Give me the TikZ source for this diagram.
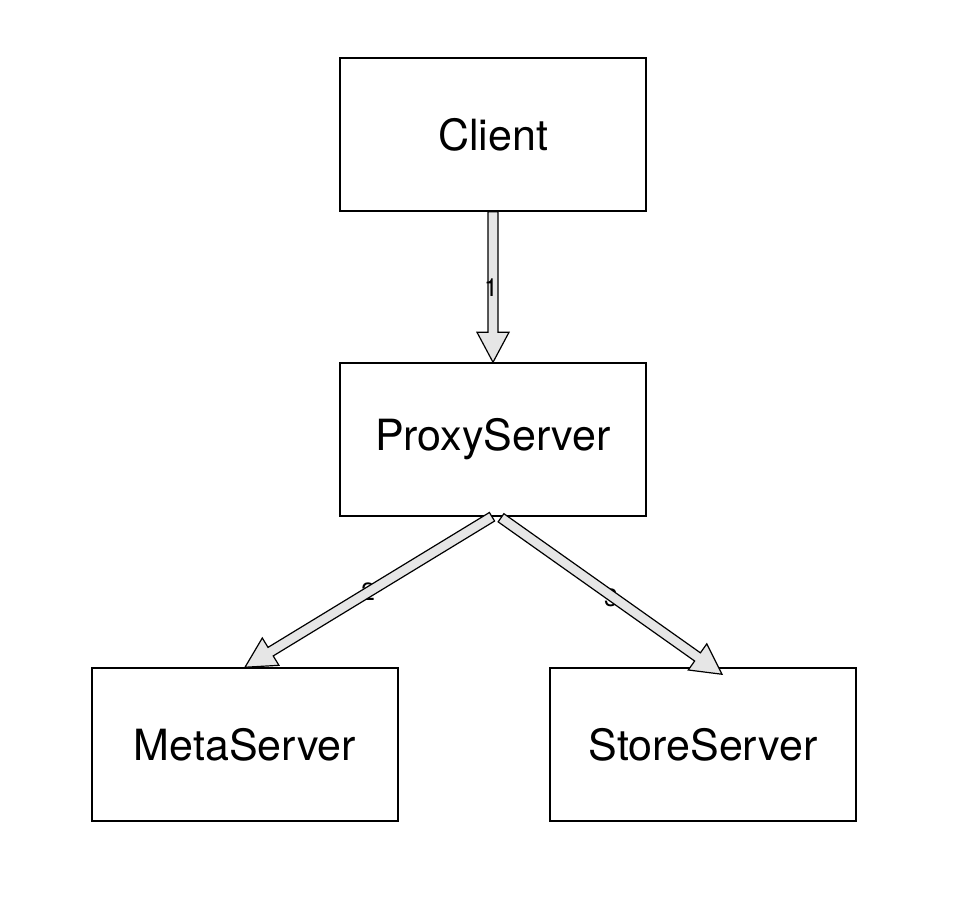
\documentclass[tikz,border=0pt]{standalone}
\usepackage{fontspec}
\setmainfont{TeX Gyre Heros}
\usetikzlibrary{calc}
\definecolor{arrowgray}{HTML}{E6E6E6}
\tikzset{
  box/.style={draw=black, line width=1.5pt, minimum width=306pt, minimum height=153pt, inner sep=0pt, font=\fontsize{43}{47}\selectfont},
  fatarrow/.style={draw=black, fill=arrowgray, line width=1.2pt, line join=miter},
  lbl/.style={font=\fontsize{25}{26}\selectfont, inner sep=0pt}
}
\newcommand\fatarr[2]{%
  \path let \p1=(#1), \p2=(#2) in coordinate (H) at ($(#2)!30pt!(#1)$);
  \draw[fatarrow] ($(#1)!5pt!90:(#2)$) -- ($(H)!5pt!90:(#2)$) -- ($(H)!16pt!90:(#2)$) -- (#2)
     -- ($(H)!16pt!-90:(#2)$) -- ($(H)!5pt!-90:(#2)$) -- ($(#1)!5pt!-90:(#2)$) -- cycle;%
}
\begin{document}
\begin{tikzpicture}[x=1pt,y=-1pt]
\useasboundingbox (0,0) rectangle (976,898);
\node[box] (client) at (493,134.5) {Client};
\node[box] (proxy) at (493,439.5) {ProxyServer};
\node[box] (meta) at (245,744.5) {MetaServer};
\node[box] (store) at (703,744.5) {StoreServer};
\coordinate (t2) at ($(proxy.south)+(-1,0)$);
\coordinate (t3) at ($(proxy.south)+(8,1)$);
\coordinate (h3) at ($(store.north)+(19,7)$);
\node[lbl] (l2) at (368,592) {2};
\node[lbl] (l3) at (611,598) {3};
\fatarr{client.south}{proxy.north}
\fatarr{t2}{meta.north}
\fatarr{t3}{h3}
\node[lbl] (l1) at (491,288) {1};
\end{tikzpicture}
\end{document}
